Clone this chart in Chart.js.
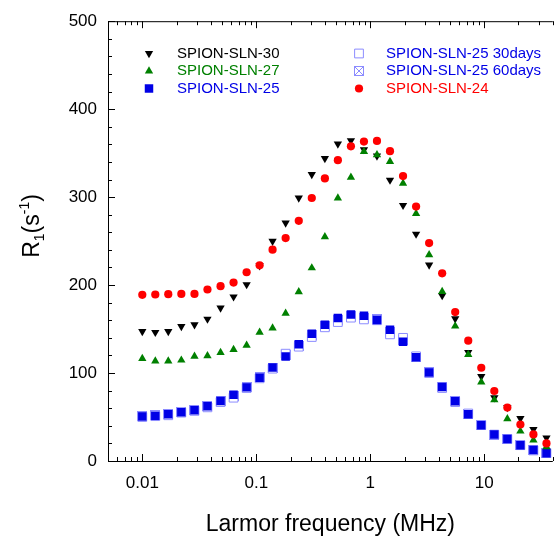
<!DOCTYPE html>
<html lang="en">
<head>
<meta charset="UTF-8">
<title>NMRD profiles - SPION-SLN</title>
<script src="https://cdn.jsdelivr.net/npm/chart.js"></script>
<style>
    body { margin: 0; background: #fff; }
    #wrap { width: 560px; height: 536px; }
</style>
</head>
<body>
<div id="wrap"><canvas id="nmrd" width="560" height="536"></canvas></div>
<script>
// Larmor frequency (MHz), shared by all samples
const freqs = [0.01, 0.0130, 0.0169, 0.0220, 0.0287, 0.0373, 0.0486, 0.0632,
    0.0823, 0.107, 0.139, 0.181, 0.236, 0.307, 0.400, 0.520,
    0.677, 0.881, 1.146, 1.491, 1.941, 2.526, 3.287, 4.278,
    5.567, 7.245, 9.429, 12.27, 15.97, 20.78, 27.04, 35.2];

// R1 (s^-1)
const sln30 = [147.4, 146.3, 147.4, 153, 155, 161.4, 174, 186.7, 200.6, 222, 250, 270.7,
    299, 325.8, 343.9, 360.5, 364.3, 354.1, 346.9, 319.4, 290.7, 258, 222.9, 188.1,
    161.8, 123.6, 96.2, 72, 61, 48.3, 35.8, 26.4];
const sln27 = [116.5, 113.5, 113.5, 114.6, 119.1, 119.5, 123.3, 126.7, 131.6, 146.3, 151.2, 167.8,
    192.3, 219.5, 254.9, 299, 322.4, 351.8, 348, 340.5, 315.6, 281.3, 234.5, 192.6,
    153.4, 121, 89.7, 69.4, 47.9, 33.9, 23.8, 16.2];
const sln25 = [50.5, 51.3, 53.2, 55.4, 57.7, 62.2, 68.2, 75.4, 83.7, 94.7, 106.3, 118.8,
    132.7, 144.8, 155, 162.5, 166.6, 165.2, 160.3, 149.3, 135.7, 118, 100.7, 84,
    67.9, 53.2, 40.7, 30.2, 24.9, 17.8, 12.4, 8.7];
const sln25d30 = [50, 51, 52, 55, 57, 61, 67, 72, 83, 94, 105, 122,
    130, 141, 152, 158, 163, 161, 160, 144, 140, 119, 100, 83,
    67, 54, 41, 30, 25, 18, 12, 9];
const sln25d60 = [51, 52, 53, 56, 58, 62, 68, 74, 84, 95, 106, 120,
    131, 143, 154, 160, 165, 163, 161, 147, 138, 118, 101, 84,
    68, 54, 41, 30, 25, 18, 12, 9];
const sln24 = [188.9, 189.3, 189.7, 190, 190, 195, 198.7, 202.9, 214.6, 222.5, 240.2, 253.4,
    273, 299, 321.3, 342, 357.8, 363.1, 363.9, 352.2, 323.9, 289.2, 247.7, 213.4,
    169.3, 136.8, 106, 79.6, 60.7, 41.5, 30.2, 20];

const xDecades = [0.01, 0.1, 1, 10];

const BLACK = '#000000', GREEN = '#008000', BLUE = '#0000e6', RED = '#ff0000', LIGHT = '#8c8cff';

function pts(ys) { return freqs.map((f, i) => ({ x: f, y: ys[i] })); }

// crossed square marker
const crossSq = document.createElement('canvas');
crossSq.width = 10; crossSq.height = 10;
(function () {
    const c = crossSq.getContext('2d');
    c.fillStyle = '#fff';
    c.fillRect(0, 0, 10, 10);
    c.strokeStyle = LIGHT;
    c.lineWidth = 1;
    c.strokeRect(0.5, 0.5, 9, 9);
    c.beginPath();
    c.moveTo(1, 1); c.lineTo(9, 9);
    c.moveTo(9, 1); c.lineTo(1, 9);
    c.stroke();
})();

const series = [
    { label: 'SPION-SLN-24', data: sln24, style: 'circle', r: 4.1, bg: RED, bc: RED, bw: 0, rot: 0, text: RED },
    { label: 'SPION-SLN-27', data: sln27, style: 'triangle', r: 4.8, bg: GREEN, bc: GREEN, bw: 0, rot: 0, text: GREEN },
    { label: 'SPION-SLN-30', data: sln30, style: 'triangle', r: 4.8, bg: BLACK, bc: BLACK, bw: 0, rot: 180, text: BLACK },
    { label: 'SPION-SLN-25', data: sln25, style: 'rect', r: 6, bg: BLUE, bc: BLUE, bw: 0, rot: 0, text: BLUE },
    { label: 'SPION-SLN-25 30days', data: sln25d30, style: 'rect', r: 6.2, bg: '#ffffff', bc: LIGHT, bw: 1, rot: 0, text: BLUE },
    { label: 'SPION-SLN-25 60days', data: sln25d60, style: crossSq, r: 5, bg: '#ffffff', bc: LIGHT, bw: 1, rot: 0, text: BLUE }
];

// legend layout: [series label, column, row]
const legendSlots = [
    ['SPION-SLN-30', 0, 0], ['SPION-SLN-27', 0, 1], ['SPION-SLN-25', 0, 2],
    ['SPION-SLN-25 30days', 1, 0], ['SPION-SLN-25 60days', 1, 1], ['SPION-SLN-24', 1, 2]
];

const decor = {
    id: 'decor',
    afterDraw(chart) {
        const ctx = chart.ctx;
        const xs = chart.scales.x, ys = chart.scales.y;
        const a = chart.chartArea;
        ctx.save();
        ctx.strokeStyle = '#000';
        ctx.lineWidth = 1;
        ctx.beginPath();
        // frame: left, bottom, top
        ctx.moveTo(a.left + 0.5, a.top + 0.5); ctx.lineTo(a.left + 0.5, a.bottom + 0.5);
        ctx.lineTo(a.right, a.bottom + 0.5);
        ctx.moveTo(a.left + 0.5, a.top + 0.5); ctx.lineTo(a.right, a.top + 0.5);
        // y ticks, inward
        for (let i = 0; i <= 25; i++) {
            const v = i * 20;
            const y = Math.round(ys.getPixelForValue(v)) + 0.5;
            const len = (v % 100 === 0) ? 7 : 4;
            ctx.moveTo(a.left, y); ctx.lineTo(a.left + len, y);
        }
        // x ticks, inward on bottom and top
        for (let e = -3; e <= 1; e++) {
            for (let m = 1; m <= 9; m++) {
                const v = m * Math.pow(10, e);
                if (v < xs.min * 0.999 || v > xs.max * 1.001) continue;
                const x = Math.round(xs.getPixelForValue(v)) + 0.5;
                const len = m === 1 ? 7 : 4;
                ctx.moveTo(x, a.bottom); ctx.lineTo(x, a.bottom - len);
                ctx.moveTo(x, a.top); ctx.lineTo(x, a.top + len);
            }
        }
        ctx.stroke();

        // y axis title R1(s-1)
        ctx.save();
        ctx.translate(39, 226);
        ctx.rotate(-Math.PI / 2);
        ctx.fillStyle = '#000';
        ctx.textBaseline = 'alphabetic';
        const big = '23px "Liberation Sans", Arial, sans-serif';
        const small = '14px "Liberation Sans", Arial, sans-serif';
        const parts = [['R', big, 0], ['1', small, 5], ['(s', big, 0], ['-1', small, -10], [')', big, 0]];
        let total = 0;
        parts.forEach(p => { ctx.font = p[1]; total += ctx.measureText(p[0]).width; });
        let px = -total / 2;
        parts.forEach(p => {
            ctx.font = p[1];
            ctx.fillText(p[0], px, p[2]);
            px += ctx.measureText(p[0]).width;
        });
        ctx.restore();

        // legend
        const colMarker = [149, 359], colText = [177, 386], rowY = [53.5, 71, 88.5];
        ctx.font = '15px "Liberation Sans", Arial, sans-serif';
        ctx.textBaseline = 'middle';
        ctx.textAlign = 'left';
        legendSlots.forEach(([label, col, row]) => {
            const s = series.find(d => d.label === label);
            const y = rowY[row];
            ctx.fillStyle = s.bg;
            ctx.strokeStyle = s.bc;
            ctx.lineWidth = s.bw;
            Chart.helpers.drawPoint(ctx, { pointStyle: s.style, radius: s.r, rotation: s.rot, borderWidth: s.bw }, colMarker[col], y);
            ctx.fillStyle = s.text;
            ctx.fillText(label, colText[col], y);
        });
        ctx.restore();
    }
};

new Chart(document.getElementById('nmrd'), {
    type: 'scatter',
    data: {
        datasets: series.map(s => ({
            label: s.label,
            data: pts(s.data),
            pointStyle: s.style,
            pointRadius: s.r,
            pointRotation: s.rot,
            backgroundColor: s.bg,
            borderColor: s.bc,
            borderWidth: s.bw,
            showLine: false
        }))
    },
    options: {
        responsive: false,
        devicePixelRatio: 1,
        animation: false,
        layout: { padding: { top: 19, right: 2, left: 0, bottom: 0 } },
        plugins: { legend: { display: false }, tooltip: { enabled: false } },
        scales: {
            x: {
                type: 'logarithmic',
                min: 0.005,
                max: 40,
                grid: { display: false, drawTicks: false },
                border: { display: false },
                afterBuildTicks: s => { s.ticks = xDecades.map(v => ({ value: v })); },
                afterFit: s => { s.height = 75; },
                ticks: {
                    autoSkip: false,
                    maxRotation: 0,
                    padding: 12,
                    color: '#000',
                    font: { family: '"Liberation Sans", Arial, sans-serif', size: 17 },
                    callback: v => String(v)
                },
                title: {
                    display: true,
                    text: 'Larmor frequency (MHz)',
                    color: '#000',
                    padding: { top: 0, bottom: 0 },
                    font: { family: '"Liberation Sans", Arial, sans-serif', size: 23, lineHeight: 1.0 }
                }
            },
            y: {
                min: 0,
                max: 500,
                grid: { display: false, drawTicks: false },
                border: { display: false },
                afterFit: s => { s.width = 108; },
                ticks: {
                    stepSize: 100,
                    padding: 11,
                    color: '#000',
                    font: { family: '"Liberation Sans", Arial, sans-serif', size: 17 }
                }
            }
        }
    },
    plugins: [decor]
});
</script>
</body>
</html>
